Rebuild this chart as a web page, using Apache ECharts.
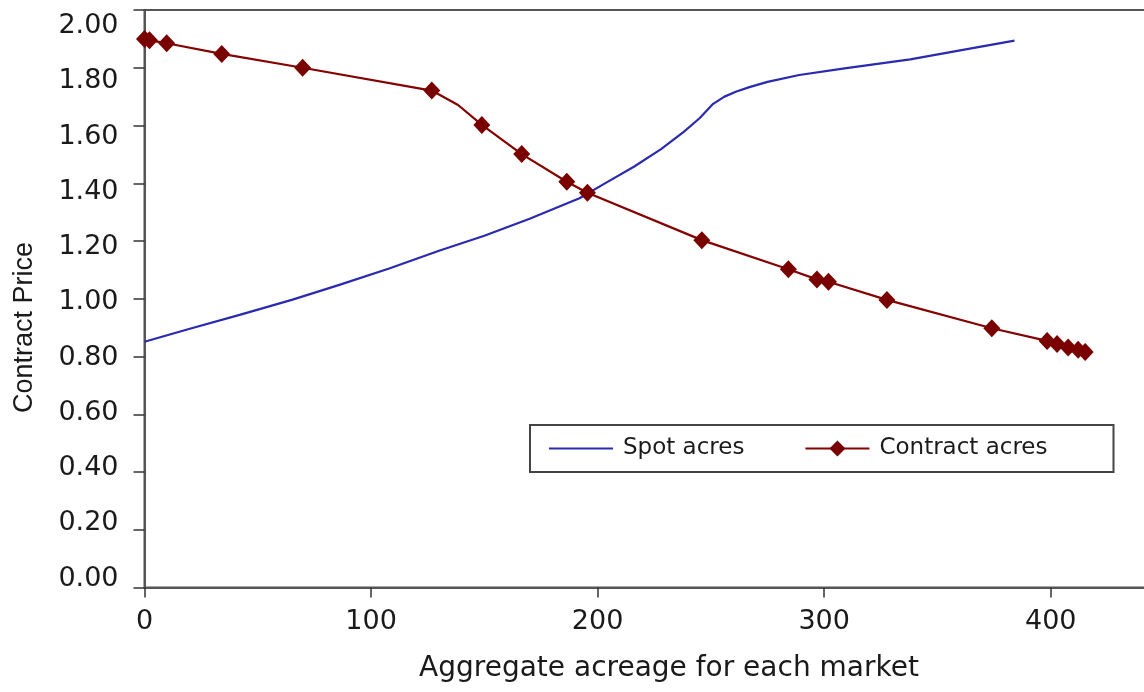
<!DOCTYPE html>
<html>
<head>
<meta charset="utf-8">
<title>Contract Price vs Aggregate acreage</title>
<script src="https://cdn.jsdelivr.net/npm/echarts@6/dist/echarts.min.js"></script>
<style>
  html, body { margin: 0; padding: 0; background: #ffffff; }
  #chart { width: 1144px; height: 692px; }
</style>
</head>
<body>
<div id="chart"></div>
<script>
// Spot market: price as a function of aggregate acreage
const spotAcreage = [0, 20, 42, 65, 86, 108, 130, 150, 170, 192, 204, 216, 228, 238, 245, 251, 256, 261, 267, 275, 289, 309, 338, 360, 384];
const spotPrice   = [0.851, 0.896, 0.944, 0.996, 1.048, 1.105, 1.166, 1.218, 1.277, 1.348, 1.403, 1.457, 1.518, 1.578, 1.625, 1.675, 1.700, 1.717, 1.733, 1.751, 1.775, 1.798, 1.829, 1.860, 1.894];

// Contract market: price as a function of aggregate acreage
const contractAcreage = [0, 2.2, 9.8, 34.1, 69.8, 126.8, 138.4, 148.9, 166.5, 186.4, 195.5, 246.0, 284.2, 296.8, 301.9, 327.7, 374.0, 398.4, 402.8, 407.7, 412.1, 415.2];
const contractPrice   = [1.900, 1.895, 1.885, 1.848, 1.800, 1.721, 1.671, 1.602, 1.501, 1.405, 1.367, 1.203, 1.102, 1.067, 1.059, 0.996, 0.898, 0.854, 0.843, 0.831, 0.823, 0.816];
// vertex where the contract curve bends between two samples (drawn without a marker)
const contractUnmarked = [6];

// Price axis labels
const priceTicks = [0, 0.2, 0.4, 0.6, 0.8, 1.0, 1.2, 1.4, 1.6, 1.8, 2.0];

const FONT = '"DejaVu Sans", "Liberation Sans", sans-serif';
const AXIS_COLOR = '#555555';
const TEXT_COLOR = '#1a1a1a';
const SPOT_COLOR = '#2a2ab0';
const CONTRACT_COLOR = '#860000';

const chart = echarts.init(document.getElementById('chart'), null, { renderer: 'canvas' });

const option = {
  animation: false,
  backgroundColor: '#ffffff',
  grid: {
    left: 144.5,
    right: -20,
    top: 10,
    bottom: 104.5,
    outerBoundsMode: 'none',
    containLabel: false,
    show: true,
    borderColor: AXIS_COLOR,
    borderWidth: 2,
    backgroundColor: 'transparent'
  },
  xAxis: {
    type: 'value',
    min: 0,
    max: 450,
    interval: 100,
    axisLine: { show: true, onZero: false, lineStyle: { color: AXIS_COLOR, width: 2 } },
    axisTick: { show: true, length: 10, lineStyle: { color: '#333333', width: 1.5 } },
    splitLine: { show: false },
    axisLabel: { margin: 21, fontFamily: FONT, fontSize: 27, color: TEXT_COLOR, showMaxLabel: false }
  },
  yAxis: [
    {
      type: 'value',
      min: 0,
      max: 2,
      interval: 0.2,
      axisLine: { show: true, onZero: false, lineStyle: { color: AXIS_COLOR, width: 2 } },
      axisTick: { show: true, length: 11, lineStyle: { color: '#333333', width: 1.5 } },
      splitLine: { show: false },
      axisLabel: { show: false }
    },
    {
      // label track for the price scale
      type: 'value',
      position: 'left',
      offset: 0,
      min: -0.0319,
      max: 2.0586,
      axisLine: { show: false },
      axisTick: { show: false },
      splitLine: { show: false },
      axisLabel: {
        customValues: priceTicks,
        formatter: function (v) { return v.toFixed(2); },
        margin: 26,
        fontFamily: FONT,
        fontSize: 27,
        color: TEXT_COLOR
      }
    }
  ],
  legend: {
    left: 530,
    top: 425,
    orient: 'horizontal',
    padding: [10, 66, 10, 18],
    itemGap: 60,
    itemWidth: 64,
    itemHeight: 20,
    borderColor: '#444444',
    borderWidth: 2,
    textStyle: { fontFamily: FONT, fontSize: 23, color: TEXT_COLOR, padding: [0, 0, 0, 5], lineHeight: 27 },
    data: [
      { name: 'Spot acres', itemStyle: { opacity: 0 } },
      { name: 'Contract acres' }
    ]
  },
  graphic: [
    {
      type: 'text',
      x: 669,
      y: 669,
      style: {
        text: 'Aggregate acreage for each market',
        font: '28px "DejaVu Sans"',
        fill: TEXT_COLOR,
        textAlign: 'center',
        textVerticalAlign: 'middle'
      }
    },
    {
      type: 'text',
      x: 25,
      y: 327.5,
      rotation: Math.PI / 2,
      style: {
        text: 'Contract Price',
        font: '27px "Liberation Sans"',
        fill: TEXT_COLOR,
        textAlign: 'center',
        textVerticalAlign: 'middle'
      }
    }
  ],
  series: [
    {
      name: 'Spot acres',
      type: 'line',
      yAxisIndex: 0,
      data: spotAcreage.map(function (x, i) { return [x, spotPrice[i]]; }),
      symbol: 'none',
      showSymbol: false,
      lineStyle: { color: SPOT_COLOR, width: 2.2 },
      itemStyle: { color: SPOT_COLOR },
      z: 2
    },
    {
      name: 'Contract acres',
      type: 'line',
      yAxisIndex: 0,
      data: contractAcreage.map(function (x, i) {
        const item = { value: [x, contractPrice[i]] };
        if (contractUnmarked.indexOf(i) >= 0) item.symbol = 'none';
        return item;
      }),
      symbol: 'diamond',
      symbolSize: [17, 18],
      lineStyle: { color: CONTRACT_COLOR, width: 2.2 },
      itemStyle: { color: '#7a0000' },
      z: 3
    }
  ]
};

chart.setOption(option);
</script>
</body>
</html>
